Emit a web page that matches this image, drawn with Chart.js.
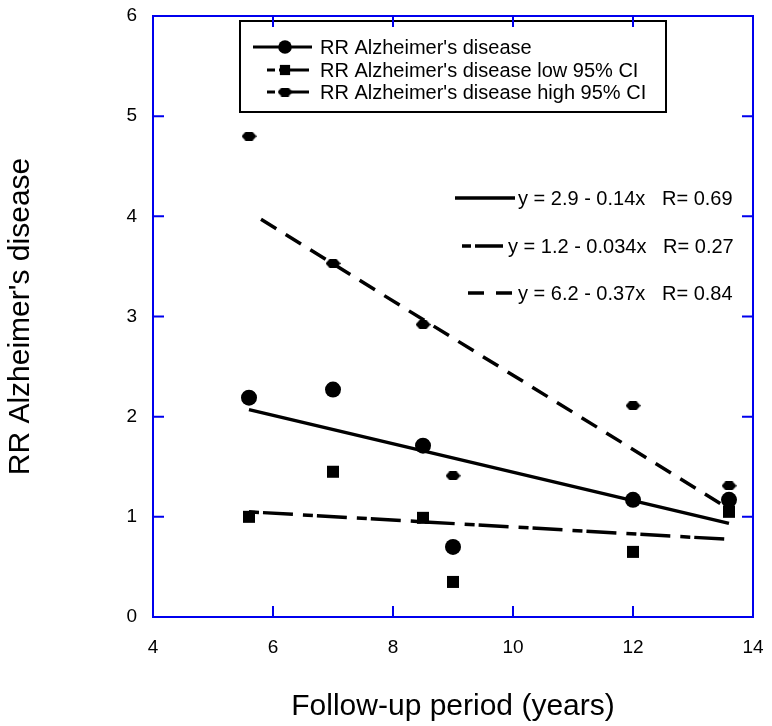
<!DOCTYPE html>
<html>
<head>
<meta charset="utf-8">
<script src="https://cdn.jsdelivr.net/npm/chart.js@4.4.1/dist/chart.umd.min.js"></script>
<style>
  html, body { margin: 0; padding: 0; background: #ffffff; }
</style>
</head>
<body>
<canvas id="rrChart" width="772" height="726"></canvas>
<script>
// follow-up (years) of the studies
const years = [5.6, 7.0, 8.5, 9.0, 12.0, 13.6];
const rr = [2.19, 2.27, 1.71, 0.70, 1.17, 1.17];
const rrLow = [1.00, 1.45, 0.99, 0.35, 0.65, 1.05];
const rrHigh = [4.80, 3.53, 2.92, 1.41, 2.11, 1.31];

// regression lines, end points
const fitRRX = [5.6, 13.6];
const fitRRY = [2.07, 0.935];
const fitLowX = [5.6, 13.6];
const fitLowY = [1.05, 0.775];
const fitHighX = [5.8, 13.6];
const fitHighY = [3.97, 1.08];

const seriesLabels = [
  "RR Alzheimer's disease",
  "RR Alzheimer's disease low 95% CI",
  "RR Alzheimer's disease high 95% CI",
];
const fitLabels = [
  "y = 2.9 - 0.14x   R= 0.69",
  "y = 1.2 - 0.034x   R= 0.27",
  "y = 6.2 - 0.37x   R= 0.84",
];

const FONT = "'Liberation Sans', Arial, sans-serif";
const AXIS_BLUE = "#0000ee";
const DASH_HIGH = [18, 11];
const DASH_LOW = [10, 4, 30, 10];

const toPts = (xs, ys) => xs.map((x, i) => ({ x: x, y: ys[i] }));

// flattened hexagon marker for the high CI
const hexMarker = (() => {
  const c = document.createElement("canvas");
  c.width = 15;
  c.height = 9;
  const g = c.getContext("2d");
  g.fillStyle = "#000";
  g.beginPath();
  g.moveTo(0, 4.5);
  g.lineTo(4, 0);
  g.lineTo(11, 0);
  g.lineTo(15, 4.5);
  g.lineTo(11, 9);
  g.lineTo(4, 9);
  g.closePath();
  g.fill();
  return c;
})();

const markers = [
  { pointStyle: "circle", radius: 8 },
  { pointStyle: "rect", radius: 8.5 },
  { pointStyle: hexMarker, radius: 8 },
];

// frame with inward ticks, the legend box and the fit equations
const decorations = {
  id: "decorations",
  afterDatasetsDraw(chart) {
    const ctx = chart.ctx;
    const helpers = Chart.helpers;
    ctx.save();

    // legend box
    const lx = 240, ly = 21, lw = 426, lh = 91;
    ctx.fillStyle = "#fff";
    ctx.fillRect(lx, ly, lw, lh);
    ctx.strokeStyle = "#000";
    ctx.lineWidth = 2;
    ctx.strokeRect(lx, ly, lw, lh);

    const rowsY = [47, 70, 92];
    const legendDash = [[], [8, 4, 30, 10], [8, 4, 30, 10]];
    const startX = [253, 267, 267];
    ctx.font = "20px " + FONT;
    ctx.textBaseline = "middle";
    rowsY.forEach((y, i) => {
      ctx.strokeStyle = "#000";
      ctx.lineWidth = 3;
      ctx.setLineDash(legendDash[i]);
      ctx.beginPath();
      ctx.moveTo(startX[i], y);
      ctx.lineTo(312, y);
      ctx.stroke();
      ctx.setLineDash([]);
      ctx.fillStyle = "#000";
      helpers.drawPoint(ctx, { pointStyle: markers[i].pointStyle, radius: markers[i].radius * 0.85, rotation: 0 }, 285, y);
      ctx.fillStyle = "#000";
      ctx.fillText(seriesLabels[i], 320, y + 1);
    });

    // regression equations
    const eqY = [198, 246, 293];
    const eqLine = [[455, 515], [462, 503], [468, 513]];
    const eqText = [518, 508, 518];
    const eqDash = [[], [9, 4, 30, 10], [16, 12]];
    eqY.forEach((y, i) => {
      ctx.strokeStyle = "#000";
      ctx.lineWidth = 3.5;
      ctx.setLineDash(eqDash[i]);
      ctx.beginPath();
      ctx.moveTo(eqLine[i][0], y);
      ctx.lineTo(eqLine[i][1], y);
      ctx.stroke();
      ctx.setLineDash([]);
      ctx.fillStyle = "#000";
      ctx.fillText(fitLabels[i], eqText[i], y + 1);
    });

    // frame
    const a = chart.chartArea;
    const xs = chart.scales.x, ys = chart.scales.y;
    ctx.strokeStyle = AXIS_BLUE;
    ctx.lineWidth = 2;
    ctx.strokeRect(a.left, a.top, a.right - a.left, a.bottom - a.top);
    const tl = 11;
    ctx.beginPath();
    xs.ticks.forEach((t) => {
      const px = xs.getPixelForValue(t.value);
      ctx.moveTo(px, a.bottom);
      ctx.lineTo(px, a.bottom - tl);
      ctx.moveTo(px, a.top);
      ctx.lineTo(px, a.top + tl);
    });
    ys.ticks.forEach((t) => {
      const py = ys.getPixelForValue(t.value);
      ctx.moveTo(a.left, py);
      ctx.lineTo(a.left + tl, py);
      ctx.moveTo(a.right, py);
      ctx.lineTo(a.right - tl, py);
    });
    ctx.stroke();
    ctx.restore();
  },
};

const ctx = document.getElementById("rrChart").getContext("2d");
const rrChart = new Chart(ctx, {
  type: "scatter",
  data: {
    datasets: [
      {
        label: "fit RR",
        type: "line",
        data: toPts(fitRRX, fitRRY),
        borderColor: "#000",
        borderWidth: 3.5,
        pointRadius: 0,
        fill: false,
      },
      {
        label: "fit low",
        type: "line",
        data: toPts(fitLowX, fitLowY),
        borderColor: "#000",
        borderWidth: 3.5,
        borderDash: DASH_LOW,
        pointRadius: 0,
        fill: false,
      },
      {
        label: "fit high",
        type: "line",
        data: toPts(fitHighX, fitHighY),
        borderColor: "#000",
        borderWidth: 3.5,
        borderDash: DASH_HIGH,
        pointRadius: 0,
        fill: false,
      },
      {
        label: seriesLabels[0],
        data: toPts(years, rr),
        pointStyle: markers[0].pointStyle,
        pointRadius: markers[0].radius,
        backgroundColor: "#000",
        borderColor: "#000",
        borderWidth: 0,
      },
      {
        label: seriesLabels[1],
        data: toPts(years, rrLow),
        pointStyle: markers[1].pointStyle,
        pointRadius: markers[1].radius,
        backgroundColor: "#000",
        borderColor: "#000",
        borderWidth: 0,
      },
      {
        label: seriesLabels[2],
        data: toPts(years, rrHigh),
        pointStyle: markers[2].pointStyle,
        pointRadius: markers[2].radius,
        backgroundColor: "#000",
        borderColor: "#000",
        borderWidth: 0,
      },
    ],
  },
  options: {
    responsive: false,
    animation: false,
    layout: { padding: { left: 0, right: 19, top: 16, bottom: 0 } },
    plugins: {
      legend: { display: false },
      tooltip: { enabled: false },
    },
    scales: {
      x: {
        type: "linear",
        min: 4,
        max: 14,
        grid: { display: false, drawTicks: false },
        border: { display: false },
        ticks: {
          stepSize: 2,
          color: "#000",
          padding: 19,
          font: { family: FONT, size: 19 },
        },
        title: {
          display: true,
          text: "Follow-up period (years)",
          color: "#000",
          padding: { bottom: 1 },
          font: { family: FONT, size: 30 },
        },
        afterFit(scale) {
          scale.height = 109;
          scale.paddingLeft = 0;
          scale.paddingRight = 0;
        },
      },
      y: {
        type: "linear",
        min: 0,
        max: 6,
        grid: { display: false, drawTicks: false },
        border: { display: false },
        ticks: {
          stepSize: 1,
          color: "#000",
          padding: 16,
          font: { family: FONT, size: 19 },
        },
        title: {
          display: true,
          text: "RR Alzheimer's disease",
          color: "#000",
          padding: { top: 3 },
          font: { family: FONT, size: 30 },
        },
        afterFit(scale) {
          scale.width = 153;
          scale.paddingTop = 0;
          scale.paddingBottom = 0;
        },
      },
    },
  },
  plugins: [decorations],
});
</script>
</body>
</html>
